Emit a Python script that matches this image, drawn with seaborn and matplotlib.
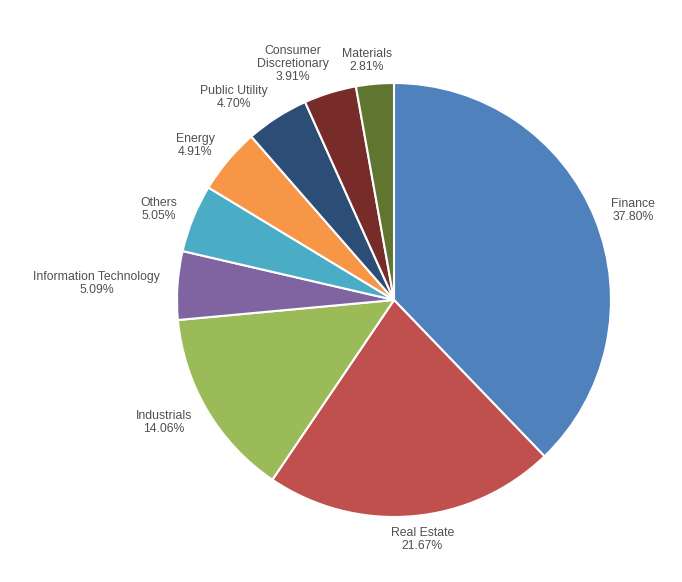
import numpy as np
import matplotlib
matplotlib.use('Agg')
import matplotlib.pyplot as plt
import seaborn as sns

sectors = ['Finance', 'Real Estate', 'Industrials', 'Information Technology',
           'Others', 'Energy', 'Public Utility', 'Consumer\nDiscretionary', 'Materials']
shares = [37.80, 21.67, 14.06, 5.09, 5.05, 4.91, 4.70, 3.91, 2.81]
colors = ['#4F81BD', '#C0504D', '#9BBB59', '#8064A2', '#4BACC6',
          '#F79646', '#2C4D75', '#772C2A', '#5F7530']

sns.set_theme(style='white')
plt.rcParams['font.family'] = ['Liberation Sans', 'DejaVu Sans']

W, H = 682, 582
cx, cy, rad = 394, 300, 217   # pie centre and radius in pixels

fig = plt.figure(figsize=(W / 100, H / 100), dpi=100)
ax = fig.add_axes([0, 0, 1, 1])
wedges, _ = ax.pie(shares, colors=colors, startangle=90, counterclock=False,
                   wedgeprops=dict(edgecolor='white', linewidth=1.5))
ax.set_aspect('auto')
ax.set_xlim(-cx / rad, (W - cx) / rad)
ax.set_ylim(-(H - cy) / rad, cy / rad)
ax.axis('off')

# labels outside the pie, pushed out by their own box size
texts = []
for w, name, val in zip(wedges, sectors, shares):
    t = ax.text(0, 0, f'{name}\n{val:.2f}%', ha='center', va='center',
                fontsize=8.8, color='#505050', linespacing=1.1,
                multialignment='center')
    texts.append((t, w))

fig.canvas.draw()
rend = fig.canvas.get_renderer()
for t, w in texts:
    ang = np.deg2rad((w.theta1 + w.theta2) / 2)
    c, s = np.cos(ang), np.sin(ang)
    bb = t.get_window_extent(rend)
    bw, bh = bb.width / rad, bb.height / rad
    fx = np.sign(c) * min(1.0, abs(c) * 3)
    t.set_position((1.08 * c + fx * bw / 2, 1.05 * s + s * bh / 2))

fig.savefig('out.png', dpi=100, facecolor='white')
